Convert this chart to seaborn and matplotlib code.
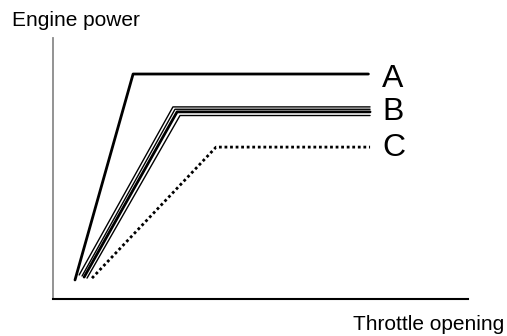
import matplotlib
matplotlib.use("Agg")
import matplotlib.pyplot as plt
import seaborn as sns

sns.set_theme(style="white")
plt.rcParams["font.family"] = ["Liberation Sans", "DejaVu Sans"]

# Throttle opening (x) and engine power (y) in relative units, 0-100
a_x = [5.3, 19.3, 76.0]
a_y = [7.3, 86.2, 86.2]

# Curve B is drawn as a bundle of close parallel traces
b_x = [[6.3, 28.9, 76.4], [7.0, 29.4, 76.4], [7.5, 29.9, 76.4], [8.2, 30.6, 76.4]]
b_y = [[9.2, 73.6, 73.6], [8.8, 72.7, 72.7], [8.4, 71.7, 71.7], [8.0, 70.3, 70.3]]
b_w = [1.0, 1.0, 2.0, 1.0]

c_x = [9.4, 39.3, 76.4]
c_y = [8.0, 58.2, 58.2]

labels = ["A", "B", "C"]
label_x = 79.3
label_baseline = [81.2, 68.6, 54.8]

fig = plt.figure(figsize=(5.07, 3.36), dpi=100)
ax = fig.add_axes([53 / 507, 37 / 336, 415 / 507, 261 / 336])

sns.lineplot(x=a_x, y=a_y, ax=ax, color="black", lw=2.0, sort=False)
for xs, ys, w in zip(b_x, b_y, b_w):
    sns.lineplot(x=xs, y=ys, ax=ax, color="black", lw=w, sort=False)
sns.lineplot(x=c_x, y=c_y, ax=ax, color="black", lw=2.0, sort=False,
             linestyle=(0, (1, 1)))

for lab, ly in zip(labels, label_baseline):
    ax.text(label_x, ly, lab, fontsize=23, va="baseline", ha="left",
            color="black")

ax.set_xlim(0, 100)
ax.set_ylim(0, 100)
ax.set_xticks([])
ax.set_yticks([])
for side in ["top", "right"]:
    ax.spines[side].set_visible(False)
ax.spines["left"].set_color("#8a8a8a")
ax.spines["left"].set_linewidth(1.3)
ax.spines["bottom"].set_color("black")
ax.spines["bottom"].set_linewidth(1.5)

fig.text(12 / 507, 1 - 26 / 336, "Engine power", fontsize=15, ha="left",
         va="baseline", color="black")
fig.text(504 / 507, 1 - 330 / 336, "Throttle opening", fontsize=15, ha="right",
         va="baseline", color="black")

fig.savefig("out.png", dpi=100, facecolor="white")
